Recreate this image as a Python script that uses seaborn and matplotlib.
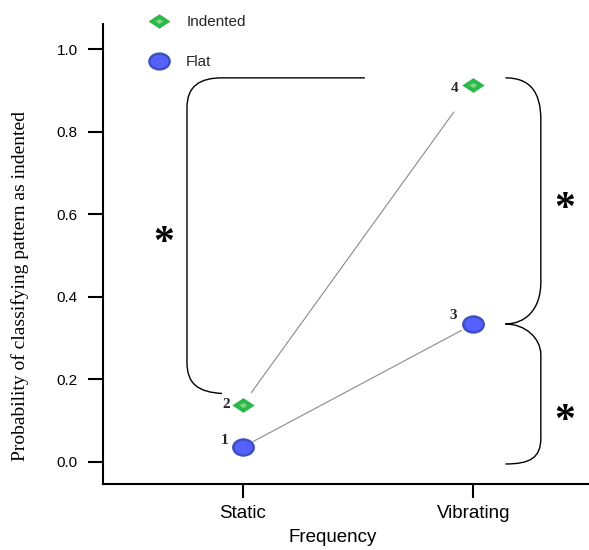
import numpy as np
import pandas as pd
import matplotlib
matplotlib.use("Agg")
import matplotlib.pyplot as plt
import seaborn as sns
from matplotlib.path import Path
from matplotlib.patches import PathPatch
from matplotlib.lines import Line2D
from matplotlib.legend_handler import HandlerTuple

# ---- data ----
categories = ["Static", "Vibrating"]
flat_values = [0.036, 0.334]
indented_values = [0.139, 0.913]
flat_ids = ["1", "3"]
indented_ids = ["2", "4"]
series_names = ["Indented", "Flat"]
y_ticks = [0.0, 0.2, 0.4, 0.6, 0.8, 1.0]
sig_marks = ["*", "*", "*"]
x_title = "Frequency"
y_title = "Probability of classifying pattern as indented"

sns.set_theme(style="white")
plt.rcParams["font.family"] = ["Liberation Sans", "DejaVu Sans"]

W, H = 589, 550
fig = plt.figure(figsize=(W / 100, H / 100), dpi=100)
ax = fig.add_axes([102.7 / W, 66 / H, (W - 102.7) / W, 460 / H])

xpos = list(range(len(categories)))
df = pd.DataFrame({
    "x": xpos + xpos,
    "y": flat_values + indented_values,
    "pattern": ["Flat"] * len(xpos) + ["Indented"] * len(xpos),
})

# custom marker shapes
circ = Path.unit_circle()
ellipse_path = Path(circ.vertices * np.array([1.0, 0.78]), circ.codes)
diamond_path = Path([(-1, 0), (0, 0.66), (1, 0), (0, -0.66), (-1, 0)],
                    [Path.MOVETO, Path.LINETO, Path.LINETO, Path.LINETO, Path.CLOSEPOLY])

BLUE, BLUE_EDGE = "#5560ff", "#3d50c2"
GREEN, GREEN_IN = "#2db84b", "#7cd68a"
LINE_GRAY = "#8a8a8a"

# connecting lines
ax.annotate("", xy=(xpos[1], flat_values[1]), xytext=(xpos[0], flat_values[0]),
            arrowprops=dict(arrowstyle="-", color=LINE_GRAY, lw=0.8, shrinkA=8.6, shrinkB=9.6))
ax.annotate("", xy=(xpos[1], indented_values[1]), xytext=(xpos[0], indented_values[0]),
            arrowprops=dict(arrowstyle="-", color=LINE_GRAY, lw=0.8, shrinkA=10.7, shrinkB=23.8))

# markers
flat_df = df[df["pattern"] == "Flat"]
ind_df = df[df["pattern"] == "Indented"]
sns.scatterplot(data=flat_df, x="x", y="y", marker=ellipse_path, s=215, color=BLUE,
                edgecolor=BLUE_EDGE, linewidth=1.8, ax=ax, zorder=3, legend=False)
sns.scatterplot(data=ind_df, x="x", y="y", marker=diamond_path, s=260, color=GREEN,
                linewidth=0, ax=ax, zorder=3, legend=False)
sns.scatterplot(data=ind_df, x="x", y="y", marker=diamond_path, s=32, color=GREEN_IN,
                linewidth=0, ax=ax, zorder=4, legend=False)

# point numbers
num_font = dict(family="Liberation Serif", weight="bold", size=11)
flat_offsets = [(-13, 5), (-14.5, 6.5)]
ind_offsets = [(-12.2, 0), (-13.3, -2.7)]
for xi, yv, lab, off in zip(xpos, flat_values, flat_ids, flat_offsets):
    ax.annotate(lab, (xi, yv), xytext=off, textcoords="offset points",
                ha="center", va="center", **num_font)
for xi, yv, lab, off in zip(xpos, indented_values, indented_ids, ind_offsets):
    ax.annotate(lab, (xi, yv), xytext=off, textcoords="offset points",
                ha="center", va="center", **num_font)

# braces
M, L, C = Path.MOVETO, Path.LINETO, Path.CURVE4
left_brace = Path(
    [(0.530, 0.9305), (-0.0898, 0.9305),
     (-0.185, 0.9305), (-0.2415, 0.911), (-0.2415, 0.858),
     (-0.2415, 0.2423),
     (-0.2415, 0.189), (-0.194, 0.1696), (-0.0898, 0.166)],
    [M, L, C, C, C, L, C, C, C])
right_brace = Path(
    [(1.1396, 0.9305),
     (1.2459, 0.9305), (1.2932, 0.8965), (1.2932, 0.8287),
     (1.2932, 0.4362),
     (1.2932, 0.3683), (1.2242, 0.3344), (1.1396, 0.3344),
     (1.2242, 0.3344), (1.2932, 0.3005), (1.2932, 0.2593),
     (1.2932, 0.0582),
     (1.2932, 0.0097), (1.2459, -0.0048), (1.1396, -0.0048)],
    [M, C, C, C, L, C, C, C, C, C, C, L, C, C, C])
for p in (left_brace, right_brace):
    ax.add_patch(PathPatch(p, facecolor="none", edgecolor="black", lw=1.0,
                           clip_on=False, zorder=2))

# significance asterisks
star_pos = [(-0.341, 0.5286), (1.3977, 0.6093), (1.3977, 0.0966)]
for (sx, sy), s in zip(star_pos, sig_marks):
    ax.text(sx, sy, s, ha="center", va="center", family="Liberation Serif",
            weight="bold", fontsize=30, color="black", clip_on=False)

# axes styling
ax.set_xlim(-0.607, 1.502)
ax.set_ylim(-0.0533, 1.061)
ax.set_xticks(xpos, categories)
ax.set_yticks(y_ticks, [f"{v:.1f}" for v in y_ticks])
ax.tick_params(axis="y", left=True, length=11, width=1.5, pad=7, labelsize=11,
               direction="out", color="black", labelcolor="black")
ax.tick_params(axis="x", bottom=True, length=10, width=1.5, pad=5, labelsize=13.5,
               direction="out", color="black", labelcolor="black")
for side in ("top", "right"):
    ax.spines[side].set_visible(False)
for side in ("left", "bottom"):
    ax.spines[side].set_color("black")
    ax.spines[side].set_linewidth(1.5)

ax.set_xlabel(x_title, fontsize=13.5, color="black")
ax.xaxis.set_label_coords(0.4736, -0.098)
ax.set_ylabel(y_title, fontsize=14, family="Liberation Serif", color="black")
ax.yaxis.set_label_coords(-0.1516, 0.4304)

# legend
h_ind = Line2D([], [], ls="none", marker=diamond_path, ms=15.8, mfc=GREEN, mec=GREEN, mew=0)
h_ind_in = Line2D([], [], ls="none", marker=diamond_path, ms=5.5, mfc=GREEN_IN, mec=GREEN_IN, mew=0)
h_flat = Line2D([], [], ls="none", marker=ellipse_path, ms=14.5, mfc=BLUE, mec=BLUE_EDGE, mew=1.8)
ax.legend([(h_ind, h_ind_in), h_flat], series_names,
          handler_map={tuple: HandlerTuple(ndivide=1)},
          loc="upper left", bbox_to_anchor=(148 / W, 1 - 15 / H), bbox_transform=fig.transFigure,
          frameon=False, borderpad=0, borderaxespad=0, handlelength=1.5,
          handletextpad=1.0, labelspacing=1.7, fontsize=11)

fig.savefig("out.png", dpi=100)
